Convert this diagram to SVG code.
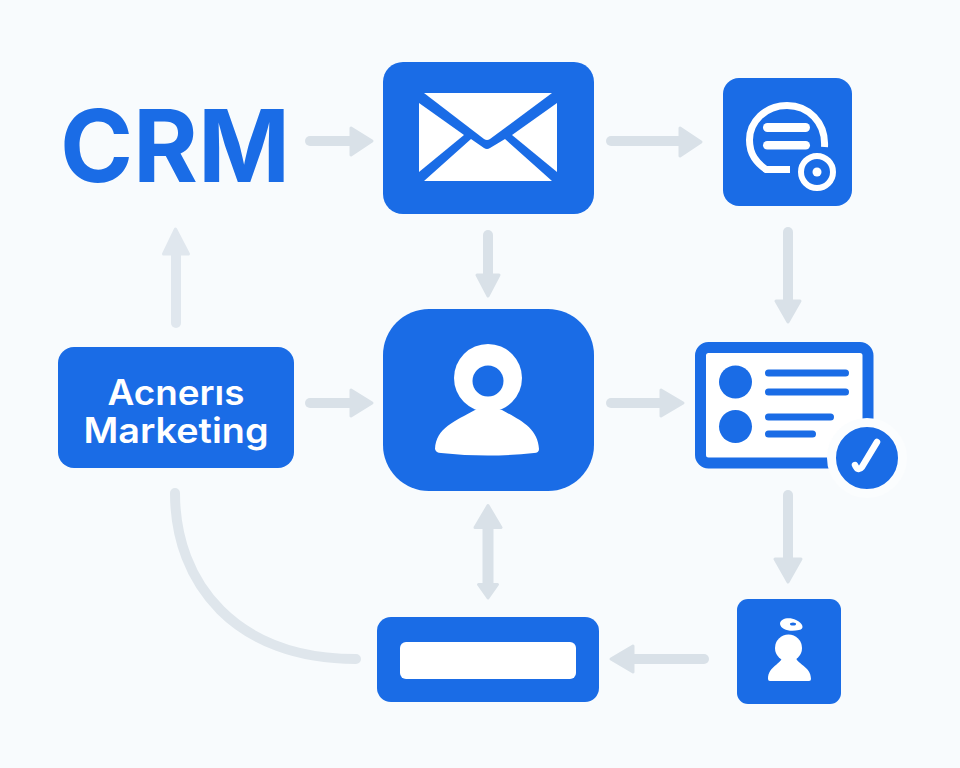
<svg xmlns="http://www.w3.org/2000/svg" width="960" height="768" viewBox="0 0 960 768">
<style>
.b{fill:#1a6ce6}
.w{fill:#fff}
.c{fill:none;stroke:#d9e1e8;stroke-width:10;stroke-linecap:round}
.h{fill:#d9e1e8;stroke:#d9e1e8;stroke-width:3;stroke-linejoin:round}
.t{font-family:"Inter","Liberation Sans",sans-serif;font-weight:600;fill:#fff;text-anchor:middle}
.ln{stroke:#1a6ce6;stroke-linecap:round;fill:none}
</style>
<rect width="960" height="768" fill="#f8fbfd"/>
<g id="connectors">
<path class="c" d="M310 141H352"/><path class="h" d="M351 128L372 141L351 155Z"/>
<path class="c" d="M611 141H681"/><path class="h" d="M680 128L701 142L680 156Z"/>
<path class="c" d="M488 235V276"/><path class="h" d="M477 275L488 296L499 275Z"/>
<path class="c" d="M788 232V302"/><path class="h" d="M776 301L788 322L800 301Z"/>
<path class="c" d="M176 323V253" style="stroke:#e0e7ee"/><path class="h" d="M163.500 254L175.500 229L188.500 254Z" style="fill:#e0e7ee;stroke:#e0e7ee"/>
<path class="c" d="M310 403H352"/><path class="h" d="M351 390L372 403L351 416Z"/>
<path class="c" d="M611 403H662"/><path class="h" d="M661 390L683 403L661 416Z"/>
<path class="c" d="M788 495V560"/><path class="h" d="M775 559L788 582L801 559Z"/>
<path class="c" d="M704 659H632"/><path class="h" d="M633 646L611 659L633 672Z"/>
<path d="M488 527V586" fill="none" stroke="#d9e1e8" stroke-width="11"/><path class="h" d="M475 527.500L488 505.500L501 527.500Z"/><path class="h" d="M478.500 584.500L488 598L497.500 584.500Z"/>
<path class="c" d="M175 493C175 584 236 659 356 659" style="stroke:#dfe6ec"/>
</g>
<g id="crm"><text x="175" y="182" font-family="Inter,'Liberation Sans',sans-serif" font-weight="700" font-size="101" fill="#1a6ce6" text-anchor="middle" textLength="230" lengthAdjust="spacingAndGlyphs">CRM</text></g>
<g id="email">
<rect class="b" x="383" y="62" width="211" height="152" rx="20"/>
<path class="w" d="M424 93H552L490 139Q487 141 484 139Z"/>
<path class="w" d="M419 103L464 135L419 172Z"/>
<path class="w" d="M557 103L512 135L557 172Z"/>
<path class="w" d="M424 181L471 139L484 148Q487 150 490 148L505 139L552 181Z"/>
</g>
<g id="chat">
<rect class="b" x="723" y="78" width="129" height="128" rx="16"/>
<path d="M824.500 147C826 122 808 105.500 787 105.500C765 105.500 749.500 122 749.500 140C749.500 155 757 163 766 169.500H790" fill="none" stroke="#fff" stroke-width="7"/>
<rect class="w" x="763" y="123" width="47" height="9" rx="4.500"/>
<rect class="w" x="763" y="141" width="47" height="8.500" rx="4.250"/>
<circle class="b" cx="817" cy="172" r="16" stroke="#fff" stroke-width="6"/>
<circle class="w" cx="817" cy="172" r="4.500"/>
</g>
<g id="marketing">
<rect class="b" x="58" y="347" width="236" height="121" rx="16"/>
<text class="t" x="176" y="405" font-size="35" textLength="137" lengthAdjust="spacingAndGlyphs">Acnerıs</text>
<text class="t" x="176" y="443" font-size="35" textLength="185" lengthAdjust="spacingAndGlyphs">Marketing</text>
</g>
<g id="contact">
<rect class="b" x="383" y="309" width="211" height="182" rx="46"/>
<circle class="w" cx="488" cy="378" r="34"/>
<path class="w" d="M475 410C455 421 436 428 435 449Q436 453 441 453Q488 458 534 453Q539 453 539 449C538 428 520 420 502 410Z"/>
<circle class="b" cx="488" cy="381" r="15.500"/>
</g>
<g id="card">
<rect x="700.500" y="347.500" width="167.500" height="115.500" rx="8" fill="#fff" stroke="#1a6ce6" stroke-width="11"/>
<circle class="b" cx="735.500" cy="382" r="16.500"/><circle class="b" cx="735.500" cy="426.500" r="16.500"/>
<path class="ln" stroke-width="7" d="M768.500 373H845.500M768.500 392H845.500M768.500 417H830.500M768.500 434H812.500"/>
<circle class="b" cx="867" cy="458" r="35.500" stroke="#fbfdfe" stroke-width="9"/>
<path d="M855 465Q858 472 862 467L877 442" fill="none" stroke="#fff" stroke-width="6.500" stroke-linecap="round"/>
</g>
<g id="person">
<rect class="b" x="737" y="599" width="104" height="105" rx="11"/>
<circle class="w" cx="788.500" cy="648" r="13.500"/>
<path class="w" d="M782 657C782 664 768 666 768 679Q768 681 770 681H809Q811 681 811 679C811 666 796 664 796 657Z"/>
<path class="w" d="M780 624C780 618 790 617 796 620C803 623 805 629 799 630C790 632 781 630 780 624Z"/>
<ellipse class="b" cx="793" cy="624" rx="3" ry="1.500"/>
</g>
<g id="form">
<rect class="b" x="377" y="617" width="222" height="85" rx="14"/>
<rect class="w" x="400" y="642" width="176" height="37" rx="6"/>
</g>
</svg>
